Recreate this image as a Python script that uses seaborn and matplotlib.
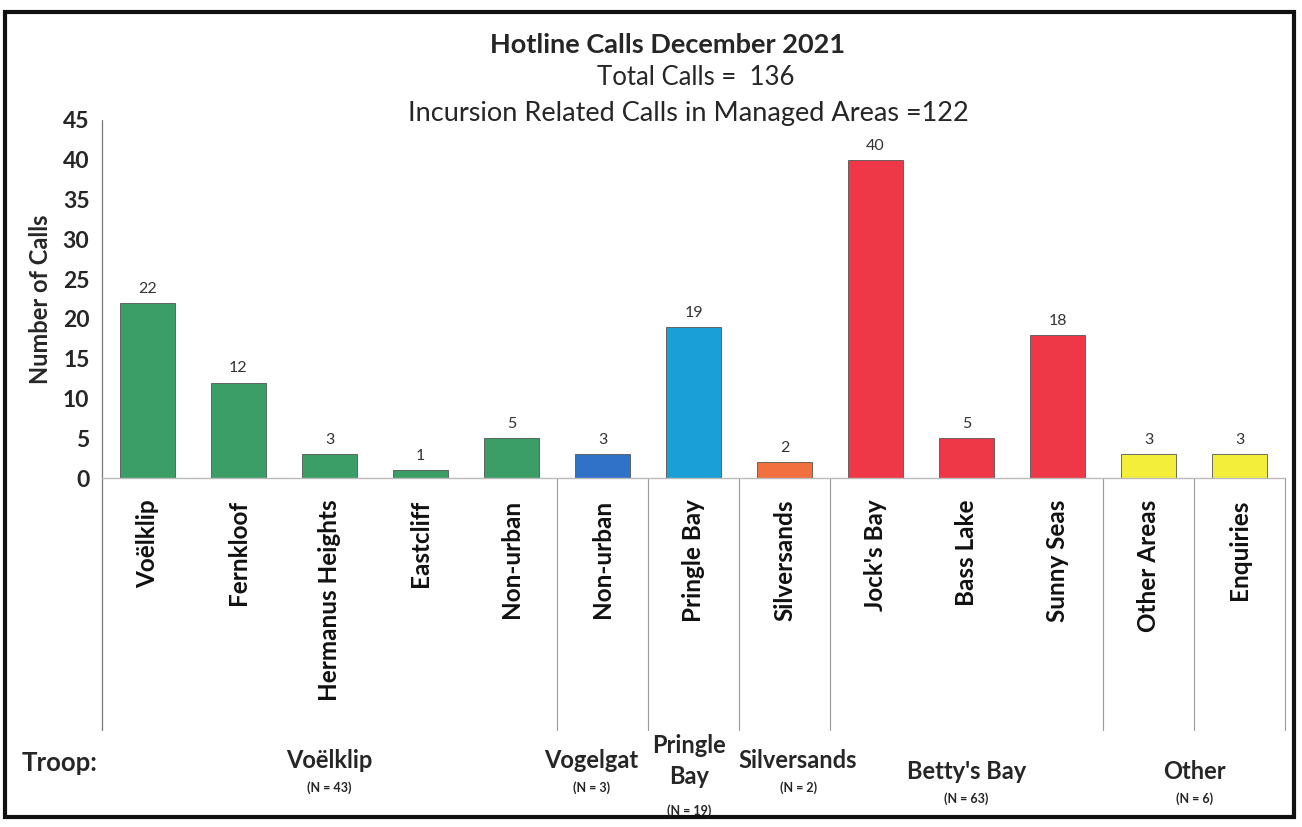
import matplotlib
matplotlib.use("Agg")
import matplotlib.pyplot as plt
import seaborn as sns
import pandas as pd
from matplotlib.patches import Rectangle

# chart data
areas = ["Voëlklip", "Fernkloof", "Hermanus Heights", "Eastcliff", "Non-urban",
         "Non-urban", "Pringle Bay", "Silversands", "Jock's Bay", "Bass Lake",
         "Sunny Seas", "Other Areas", "Enquiries"]
calls = [22, 12, 3, 1, 5, 3, 19, 2, 40, 5, 18, 3, 3]
area_troop = ["Voëlklip"] * 5 + ["Vogelgat", "Pringle Bay", "Silversands"] + \
             ["Betty's Bay"] * 3 + ["Other"] * 2
troops = ["Voëlklip", "Vogelgat", "Pringle\nBay", "Silversands", "Betty's Bay", "Other"]
troop_keys = ["Voëlklip", "Vogelgat", "Pringle Bay", "Silversands", "Betty's Bay", "Other"]
troop_n = [43, 3, 19, 2, 63, 6]
troop_colors = ["#3c9e67", "#2f72c8", "#1a9fd6", "#f2703f", "#ee3848", "#f2ee3a"]

title = "Hotline Calls December 2021"
total_line = "Total Calls =  136"
incursion_line = "Incursion Related Calls in Managed Areas =122"

sns.set_style("white")
plt.rcParams["font.family"] = ["Lato", "DejaVu Sans"]

df = pd.DataFrame({"pos": [str(i) for i in range(len(areas))],
                   "calls": calls, "troop": area_troop})
palette = dict(zip(troop_keys, troop_colors))

fig = plt.figure(figsize=(13.02, 8.27), dpi=100)
ax = fig.add_axes([0.0783, 0.422, 0.9087, 0.433])
ax.set_zorder(2)
ax.patch.set_alpha(0)

sns.barplot(data=df, x="pos", y="calls", hue="troop", palette=palette,
            dodge=False, legend=False, width=0.6, saturation=1,
            edgecolor="#555555", linewidth=0.6, ax=ax)

ax.set_xlim(-0.5, len(areas) - 0.5)
ax.set_ylim(0, 45)
ax.set_yticks(range(0, 46, 5))
ax.tick_params(axis="y", length=0, labelsize=16.5, pad=9)
for lbl in ax.get_yticklabels():
    lbl.set_fontweight("bold")
ax.set_xticks([])
ax.set_xlabel("")
ax.set_ylabel("Number of Calls", fontsize=17, fontweight="bold", labelpad=8)
for s in ["top", "right", "left"]:
    ax.spines[s].set_visible(False)
ax.spines["bottom"].set_color("#bbbbbb")
ax.spines["bottom"].set_linewidth(1)

# value labels
for i, v in enumerate(calls):
    ax.text(i, v + 0.9, str(v), ha="center", va="bottom", fontsize=11.5, color="#333333")

# category labels
tr = ax.get_xaxis_transform()
for i, name in enumerate(areas):
    ax.text(i, -0.06, name, transform=tr, rotation=90, ha="center", va="top",
            fontsize=17.5, fontweight="bold", color="#111111")

# divider lines under the axis
ax.plot([-0.5, -0.5], [1, -0.705], transform=tr, clip_on=False, color="#777777", lw=0.9)
dividers = [i + 0.5 for i in range(len(areas) - 1) if area_troop[i] != area_troop[i + 1]]
dividers += [11.5, 12.5]
for d in dividers:
    ax.plot([d, d], [0, -0.705], transform=tr, clip_on=False, color="#999999", lw=0.8)

# troop labels (a little nudging so the narrow middle groups don't collide)
nudge = {"Vogelgat": -0.12, "Pringle Bay": -0.05, "Silversands": 0.15}
ax.text(-0.55, -0.795, "Troop:", transform=tr, ha="right", va="center",
        fontsize=18.5, fontweight="bold")
for key, name, n in zip(troop_keys, troops, troop_n):
    idx = [i for i, t in enumerate(area_troop) if t == key]
    cx = sum(idx) / len(idx) + nudge.get(key, 0)
    if "\n" in name:
        ax.text(cx, -0.715, name, transform=tr, ha="center", va="top",
                fontsize=17, fontweight="bold", linespacing=1.4)
        yn = -0.93
    else:
        y0 = -0.79 if key not in ("Betty's Bay", "Other") else -0.82
        ax.text(cx, y0, name, transform=tr, ha="center", va="center",
                fontsize=17, fontweight="bold")
        yn = y0 - 0.075
    ax.text(cx, yn, f"(N = {n})", transform=tr, ha="center", va="center",
            fontsize=9, fontweight="bold", zorder=5)

# titles
fig.text(0.513, 0.946, title, ha="center", va="center", fontsize=19.5, fontweight="bold")
fig.text(0.534, 0.906, total_line, ha="center", va="center", fontsize=18.5)
fig.text(0.529, 0.863, incursion_line, ha="center", va="center", fontsize=19.5)

# outer frame
fig.patches.append(Rectangle((0.004, 0.012), 0.99, 0.974, transform=fig.transFigure,
                             fill=False, edgecolor="#111111", linewidth=3, zorder=1))

fig.savefig("out.png", dpi=100)
